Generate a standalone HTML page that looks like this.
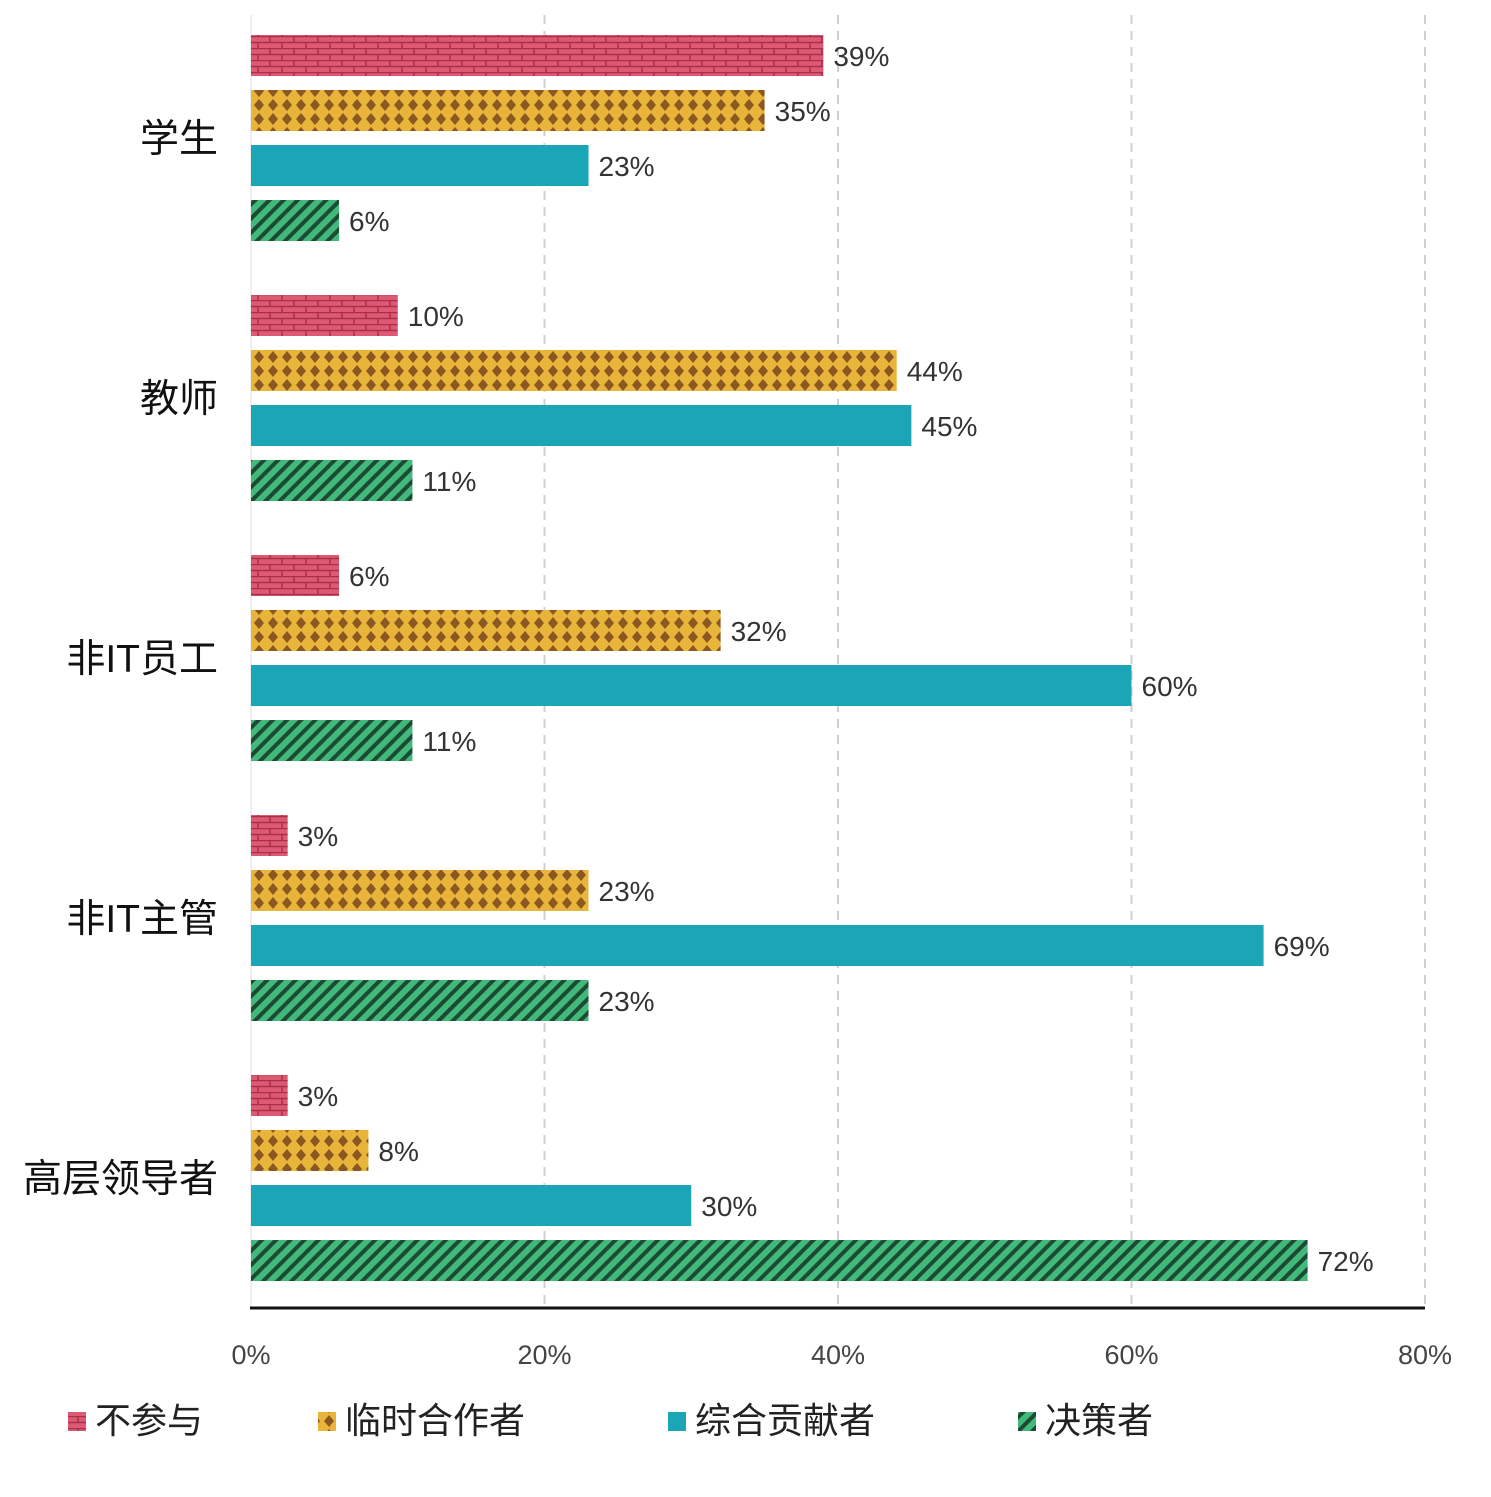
<!DOCTYPE html>
<html><head><meta charset="utf-8"><style>
body{margin:0;background:#fff}
text{font-family:"Liberation Sans","Noto Sans CJK SC",sans-serif}
</style></head><body>
<svg id="c" width="1491" height="1492" viewBox="0 0 1491 1492">
<defs>
<pattern id="pBrick" width="24" height="12" patternUnits="userSpaceOnUse">
<rect width="24" height="12" fill="#de5a74"/>
<path d="M0 0.5H24M0 6.5H24M6 0V6M18 6V12" stroke="#a8304a" stroke-width="1.5"/>
</pattern>
<pattern id="pDiamond" width="14" height="14" patternUnits="userSpaceOnUse">
<rect width="14" height="14" fill="#e9b43a"/>
<path d="M7 1L12 7L7 13L2 7Z" fill="#8a5820"/>
</pattern>
<pattern id="pStripe" width="10" height="10" patternUnits="userSpaceOnUse" patternTransform="rotate(45)">
<rect width="10" height="10" fill="#40b97a"/>
<rect width="4" height="10" fill="#1c4a32"/>
</pattern>
</defs>
<g id="grid"></g>
<g id="bars"></g>
<g id="cats"></g>
<g id="legend"></g>
</svg>
<script>
const categories=["学生","教师","非IT员工","非IT主管","高层领导者"];
const seriesNames=["不参与","临时合作者","综合贡献者","决策者"];
const notInvolved=[39,10,6,2.5,2.5];
const adhoc=[35,44,32,23,8];
const contributor=[23,45,60,69,30];
const decision=[6,11,11,23,72];
const ticks=[0,20,40,60,80];
const tickLabels=["0%","20%","40%","60%","80%"];
const series=[notInvolved,adhoc,contributor,decision];
const fills=["url(#pBrick)","url(#pDiamond)","#1aa6b6","url(#pStripe)"];
const NS="http://www.w3.org/2000/svg";
const x0=251,x1=1425,xmax=80;
function xs(v){return x0+(x1-x0)*v/xmax;}
function yb(g,i){return 35+g*260+i*55;}
function mk(t,a,p,txt){const e=document.createElementNS(NS,t);for(const k in a)e.setAttribute(k,a[k]);if(txt!=null)e.textContent=txt;p.appendChild(e);return e;}
const grid=document.getElementById('grid');
ticks.forEach((t,i)=>{
  const l=mk('line',{x1:xs(t),x2:xs(t),y1:15,y2:1308,stroke:i==0?'#eee':'#cfcfcf','stroke-width':2,'stroke-dasharray':i==0?'':'9 7'},grid);
  
  
  const tx=mk('text',{x:xs(t),y:1364,'text-anchor':'middle','font-size':27,fill:'#444'},grid,tickLabels[i]);
  
  
});
const ax=mk('line',{x1:x0-1,x2:x1,y1:1308,y2:1308,stroke:'#111','stroke-width':3},grid);


const bars=document.getElementById('bars');
categories.forEach((c,g)=>{
  series.forEach((s,i)=>{
    const v=s[g],y=yb(g,i);
    const r=mk('rect',{x:x0,y:y,width:xs(v)-x0,height:41,fill:fills[i]},bars);
    
    
    const t=mk('text',{x:xs(v)+10,y:y+31,'font-size':28,fill:'#333'},bars,Math.round(v)+'%');
    
    
  });
  const ct=mk('text',{x:218,y:35+g*260+117,'text-anchor':'end','font-size':39,fill:'#111'},document.getElementById('cats'),c);
  
  
});
const lg=document.getElementById('legend');
const lx=[68,318,668,1018];
seriesNames.forEach((n,i)=>{
  const g=mk('g',{},lg);
  
  
  mk('rect',{x:lx[i],y:1412,width:18,height:19,fill:fills[i]},g);
  mk('text',{x:lx[i]+27,y:1433,'font-size':36,fill:'#222'},g,n);
});
</script>
</body></html>
